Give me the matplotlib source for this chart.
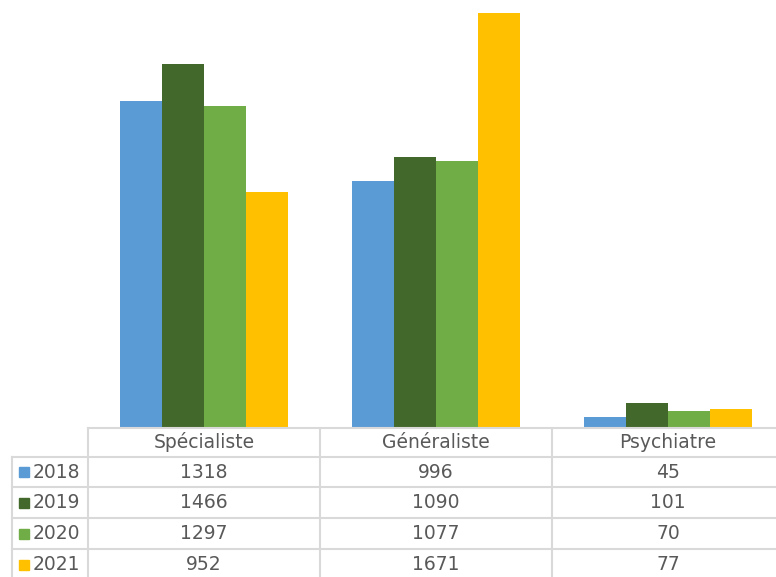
import numpy as np
import matplotlib.pyplot as plt
from matplotlib.transforms import blended_transform_factory

categories = ['Spécialiste', 'Généraliste', 'Psychiatre']
years = ['2018', '2019', '2020', '2021']
v2018 = [1318, 996, 45]
v2019 = [1466, 1090, 101]
v2020 = [1297, 1077, 70]
v2021 = [952, 1671, 77]
colors = ['#5B9BD5', '#43682B', '#70AD47', '#FFC000']

series = [v2018, v2019, v2020, v2021]

W, H = 776, 577
fig = plt.figure(figsize=(W / 100, H / 100), dpi=100)
# plot area runs slightly past the right edge (cropped like the reference)
ax = fig.add_axes([88 / W, (H - 428) / H, 696 / W, 428 / H])

x = np.arange(len(categories))
bw = 0.182
for i, (vals, c) in enumerate(zip(series, colors)):
    ax.bar(x + (i - 1.5) * bw, vals, bw, color=c, edgecolor='none')

ax.set_xlim(-0.5, len(categories) - 0.5)
ax.set_ylim(0, 1724)
ax.axis('off')

# data table under the plot
fy = lambda py: 1 - py / H
fx = lambda px: px / W
tr = blended_transform_factory(ax.transData, fig.transFigure)
lc = '#D9D9D9'
fs = 13.5
tc = '#595959'

row_y = [428, 457, 487, 518, 549, 580]
fig.add_artist(plt.Line2D([fx(88), 1], [fy(428), fy(428)], color=lc, lw=1.5))
for py in row_y[1:-1]:
    fig.add_artist(plt.Line2D([fx(12), 1], [fy(py), fy(py)], color=lc, lw=1.5))
fig.add_artist(plt.Line2D([fx(12), fx(12)], [fy(457), 0], color=lc, lw=1.5))
for b in np.arange(len(categories) + 1) - 0.5:
    fig.add_artist(plt.Line2D([b, b], [fy(428), 0], color=lc, lw=1.5, transform=tr))

for j, cat in enumerate(categories):
    fig.text(j, fy((428 + 457) / 2), cat, transform=tr, ha='center', va='center',
             fontsize=fs, color=tc)

for i, (yr, vals, c) in enumerate(zip(years, series, colors)):
    yc = fy((row_y[i + 1] + row_y[i + 2]) / 2)
    fig.patches.append(plt.Rectangle((fx(19), yc - 5 / H), 10 / W, 10 / H,
                                     transform=fig.transFigure, color=c, figure=fig))
    fig.text(fx(33), yc, yr, ha='left', va='center', fontsize=fs, color=tc)
    for j, v in enumerate(vals):
        fig.text(j, yc, str(v), transform=tr, ha='center', va='center',
                 fontsize=fs, color=tc)

fig.savefig('out.png', dpi=100)
